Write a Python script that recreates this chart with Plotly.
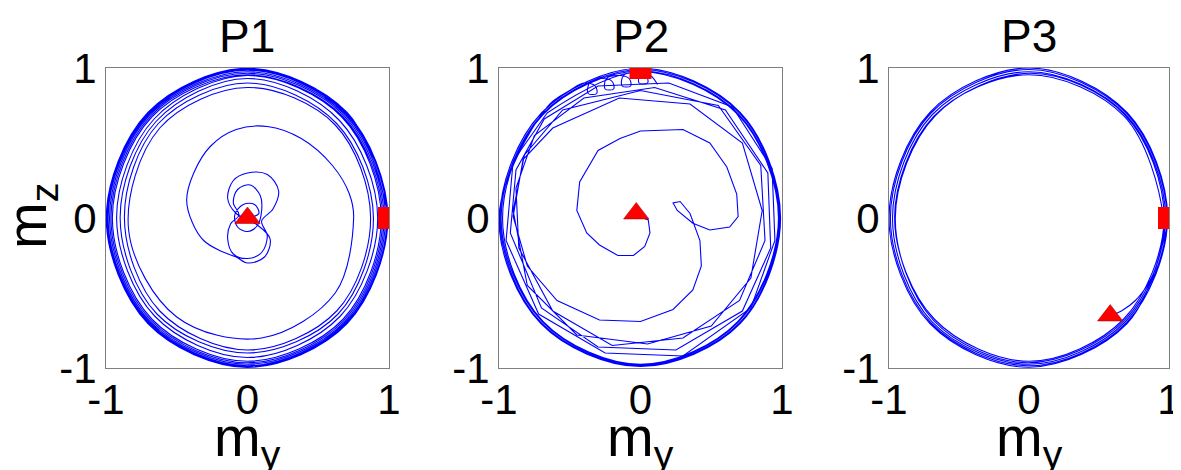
import plotly.graph_objects as go

# panel titles and tick labels
panel_titles = ["P1", "P2", "P3"]
tick_vals = [-1, 0, 1]
tick_text = ["-1", "0", "1"]

# P1: spiral from the centre (end, triangle) out to the square at (1, 0)
p1_my = [0.00, 0.08, 0.05, -0.03, -0.09, -0.07, 0.00, 0.07,
         0.10, 0.09, 0.02, -0.07, -0.10, -0.06,
         -0.12, -0.14, -0.10, 0.00, 0.10, 0.14, 0.10,
         0.18, 0.22, 0.14, 0.00, -0.10, -0.14, -0.08,
         0.06, 0.16, 0.12, 0.00, -0.08, -0.19, -0.31, -0.39, -0.43, -0.38, -0.26, -0.08,
         0.14, 0.38, 0.60, 0.72, 0.75,
         0.62, 0.10, -0.50, -0.84, -0.62, 0.00, 0.62,
         0.87, 0.63, 0.00, -0.62, -0.87, -0.63, 0.00, 0.63,
         0.89, 0.64, 0.00, -0.64, -0.90, -0.645, 0.00, 0.65,
         0.92, 0.655, 0.00, -0.655, -0.925, -0.66, 0.00, 0.67,
         0.945, 0.675, 0.00, -0.675, -0.955, -0.675, 0.00, 0.675,
         0.955, 0.682, 0.00, -0.682, -0.965, -0.682, 0.00, 0.682,
         0.965, 0.689, 0.00, -0.689, -0.975, -0.689, 0.00, 0.689,
         0.975, 0.695, 0.00, -0.695, -0.985, -0.695, 0.00, 0.695,
         0.985, 0.700, 0.00, -0.700, -0.992, -0.700, 0.00, 0.700,
         0.992, 0.704, 0.00, -0.704, -0.998, -0.704, 0.00, 0.704,
         1.00]
p1_mz = [0.00, 0.03, 0.09, 0.09, 0.02, -0.06, -0.09, -0.05,
         0.05, 0.15, 0.22, 0.19, 0.10, 0.02,
         -0.04, -0.14, -0.24, -0.27, -0.23, -0.12, -0.02,
         0.06, 0.18, 0.29, 0.30, 0.25, 0.13, 0.03,
         -0.04, -0.14, -0.26, -0.30, -0.26, -0.22, -0.15, -0.03, 0.12, 0.30, 0.48, 0.59,
         0.61, 0.53, 0.35, 0.16, 0.00,
         -0.50, -0.80, -0.66, -0.08, 0.60, 0.87, 0.62,
         0.00, -0.62, -0.88, -0.62, 0.00, 0.63, 0.90, 0.63,
         0.00, -0.64, -0.90, -0.64, 0.00, 0.645, 0.93, 0.65,
         0.00, -0.655, -0.93, -0.655, 0.00, 0.66, 0.95, 0.67,
         0.00, -0.675, -0.955, -0.675, 0.00, 0.675, 0.955, 0.675,
         0.00, -0.682, -0.965, -0.682, 0.00, 0.682, 0.965, 0.682,
         0.00, -0.689, -0.975, -0.689, 0.00, 0.689, 0.975, 0.689,
         0.00, -0.695, -0.985, -0.695, 0.00, 0.695, 0.985, 0.695,
         0.00, -0.700, -0.99, -0.700, 0.00, 0.700, 0.992, 0.700,
         0.00, -0.704, -0.996, -0.704, 0.00, 0.704, 0.998, 0.704,
         0.00]

# P2 inner part: wobbly loops around the triangle
p2_inner_my = [-0.01, 0.055, 0.067, 0.03, -0.05, -0.16, -0.29, -0.38, -0.45, -0.43, -0.30,
               -0.145, 0.00, 0.30, 0.49, 0.61, 0.68, 0.69, 0.63, 0.49, 0.37, 0.26, 0.23,
               0.28, 0.35, 0.42, 0.43, 0.37, 0.23, 0.00, -0.29, -0.59, -0.80, -0.90, -0.83,
               -0.62, -0.15, 0.35, 0.72, 0.86, 0.78, 0.50, 0.05, -0.45, -0.80, -0.90, -0.82,
               -0.55, 0.00, 0.55, 0.85, 0.88, 0.70, 0.30, -0.20, -0.62, -0.86, -0.88, -0.75,
               -0.40, 0.10, 0.60, 0.90, 0.92, 0.72, 0.25, -0.30, -0.70, -0.92, -0.88, -0.68,
               -0.30, 0.20, 0.65, 0.93, 0.95, 0.78, 0.30, -0.25, -0.72, -0.95, -0.90, -0.66]
p2_inner_mz = [0.01, -0.013, -0.10, -0.19, -0.25, -0.25, -0.18, -0.10, 0.05, 0.24, 0.45,
               0.53, 0.58, 0.59, 0.50, 0.34, 0.16, 0.01, -0.06, -0.08, -0.035, 0.05, 0.10,
               0.11, 0.03, -0.15, -0.32, -0.48, -0.61, -0.69, -0.68, -0.55, -0.32, 0.01, 0.39,
               0.60, 0.80, 0.76, 0.50, 0.05, -0.40, -0.72, -0.84, -0.78, -0.45, 0.05, 0.42,
               0.72, 0.85, 0.75, 0.35, -0.15, -0.55, -0.80, -0.85, -0.62, -0.20, 0.20, 0.55,
               0.80, 0.87, 0.72, 0.30, -0.20, -0.62, -0.88, -0.86, -0.60, -0.10, 0.32, 0.66,
               0.88, 0.90, 0.74, 0.33, -0.15, -0.60, -0.92, -0.90, -0.64, -0.15, 0.38, 0.70]

# P2 outer ring and the small loops near the square at (0, 1)
p2_ring_my = [-0.66, 0.00, 0.689, 0.975, 0.689, 0.00, -0.689, -0.975, -0.689,
              0.00, 0.693, 0.98, 0.693, 0.00, -0.693, -0.985, -0.693,
              0.00, 0.700, 0.985, 0.700, 0.00, -0.700, -0.993, -0.700,
              0.00, 0.704, 0.99, 0.704, 0.00, -0.704, -1.00, -0.66,
              -0.50, -0.40, -0.32, -0.31, -0.37, -0.36, -0.27, -0.20, -0.19, -0.25, -0.24,
              -0.15, -0.08, -0.07, -0.13, -0.12, -0.03, 0.04, 0.05, -0.01, 0.00, 0.07, 0.12]
p2_ring_mz = [0.70, 0.975, 0.689, 0.00, -0.689, -0.975, -0.689, 0.00, 0.689,
              0.98, 0.693, 0.00, -0.693, -0.98, -0.693, 0.00, 0.693,
              0.99, 0.700, 0.00, -0.700, -0.985, -0.700, 0.00, 0.700,
              0.998, 0.704, 0.00, -0.704, -0.99, -0.704, 0.00, 0.74,
              0.85, 0.90, 0.88, 0.83, 0.83, 0.90, 0.93, 0.91, 0.86, 0.86, 0.93,
              0.95, 0.93, 0.88, 0.88, 0.95, 0.97, 0.95, 0.90, 0.90, 0.96, 0.95, 0.89]

# P3: short tail from the triangle, then loops close to the unit circle
p3_my = [0.60, 0.66, 0.76, 0.85, 0.91,
         0.96, 0.679, 0.00, -0.679, -0.96, -0.675, 0.00, 0.675,
         0.965, 0.686, 0.01, -0.672, -0.955, -0.682, -0.01, 0.682,
         0.975, 0.690, 0.00, -0.690, -0.975, -0.692, 0.00, 0.690,
         0.985, 0.697, 0.00, -0.700, -0.99, -0.700, 0.00, 0.697,
         0.99, 0.702, 0.00, -0.706, -1.00, -0.706, 0.00, 0.702,
         1.00]
p3_mz = [-0.645, -0.62, -0.55, -0.44, -0.32,
         0.00, 0.679, 0.955, 0.679, 0.00, -0.675, -0.955, -0.675,
         0.00, 0.686, 0.965, 0.68, 0.00, -0.682, -0.965, -0.682,
         0.00, 0.690, 0.975, 0.690, 0.00, -0.692, -0.975, -0.690,
         0.00, 0.697, 0.99, 0.700, 0.00, -0.700, -0.985, -0.697,
         0.00, 0.702, 1.00, 0.706, 0.00, -0.706, -0.995, -0.702,
         0.00]

# start (square) and end (triangle) markers per panel
square_my = [1.0, 0.0, 1.0]
square_mz = [0.0, 1.0, 0.0]
triangle_my = [0.0, -0.03, 0.58]
triangle_mz = [0.0, 0.03, -0.65]

blue = "#0000FF"
red = "#FF0000"
font = "Liberation Sans, Arial, sans-serif"

fig = go.Figure()

line_sets = [
    [(p1_my, p1_mz, "spline")],
    [(p2_inner_my, p2_inner_mz, "linear"), (p2_ring_my, p2_ring_mz, "spline")],
    [(p3_my, p3_mz, "spline")],
]

for i, sets in enumerate(line_sets):
    ax = "" if i == 0 else str(i + 1)
    for xs, ys, shape in sets:
        fig.add_trace(go.Scatter(
            x=xs, y=ys, mode="lines",
            line=dict(color=blue, width=1.1, shape=shape, smoothing=1),
            xaxis="x" + ax, yaxis="y" + ax, showlegend=False,
        ))
    fig.add_trace(go.Scatter(
        x=[square_my[i]], y=[square_mz[i]], mode="markers",
        marker=dict(symbol="square", size=22, color=red, line=dict(width=0)),
        xaxis="x" + ax, yaxis="y" + ax, showlegend=False,
    ))
    fig.add_trace(go.Scatter(
        x=[triangle_my[i]], y=[triangle_mz[i]], mode="markers",
        marker=dict(symbol="triangle-up", size=22, color=red,
                    line=dict(width=0.5, color="#990000")),
        xaxis="x" + ax, yaxis="y" + ax, showlegend=False,
    ))

# the page body has an 8px margin, so the figure is laid out 8px in
W, H = 1173, 462
box_left = [98, 491, 881]
box_w = [283, 283, 280]
box_top, box_bottom = 60, 360

axis_common = dict(
    range=[-1, 1], showgrid=False, zeroline=False, automargin=False,
    showline=True, mirror=True, linecolor="#808080", linewidth=1,
    ticks="", tickvals=tick_vals, ticktext=tick_text,
    tickfont=dict(family=font, size=42, color="black"),
    ticklabeloverflow="allow",
)

layout = dict(
    width=W, height=H,
    margin=dict(l=0, r=0, t=0, b=0, autoexpand=False),
    paper_bgcolor="white", plot_bgcolor="white",
    annotations=[],
)
for i in range(3):
    ax = "" if i == 0 else str(i + 1)
    x0 = box_left[i] / W
    x1 = (box_left[i] + box_w[i]) / W
    layout["xaxis" + ax] = dict(axis_common, domain=[x0, x1], anchor="y" + ax,
                                ticklabelstandoff=-5)
    layout["yaxis" + ax] = dict(axis_common, domain=[1 - box_bottom / H, 1 - box_top / H],
                                anchor="x" + ax)
    xc = (x0 + x1) / 2
    layout["annotations"].append(dict(
        text=panel_titles[i], x=xc, y=1 - 28 / H, xref="paper", yref="paper",
        xanchor="center", yanchor="middle", showarrow=False,
        font=dict(family=font, size=46, color="black"),
    ))
    layout["annotations"].append(dict(
        text="m<sub>y</sub>", x=xc, y=1 - 432 / H, xref="paper", yref="paper",
        xanchor="center", yanchor="middle", showarrow=False,
        font=dict(family=font, size=56, color="black"),
    ))

layout["annotations"].append(dict(
    text="m<sub>z</sub>", x=22 / W, y=1 - 208 / H, xref="paper", yref="paper",
    xanchor="center", yanchor="middle", showarrow=False, textangle=-90,
    font=dict(family=font, size=56, color="black"),
))

fig.update_layout(layout)
fig.write_html("out.html")
